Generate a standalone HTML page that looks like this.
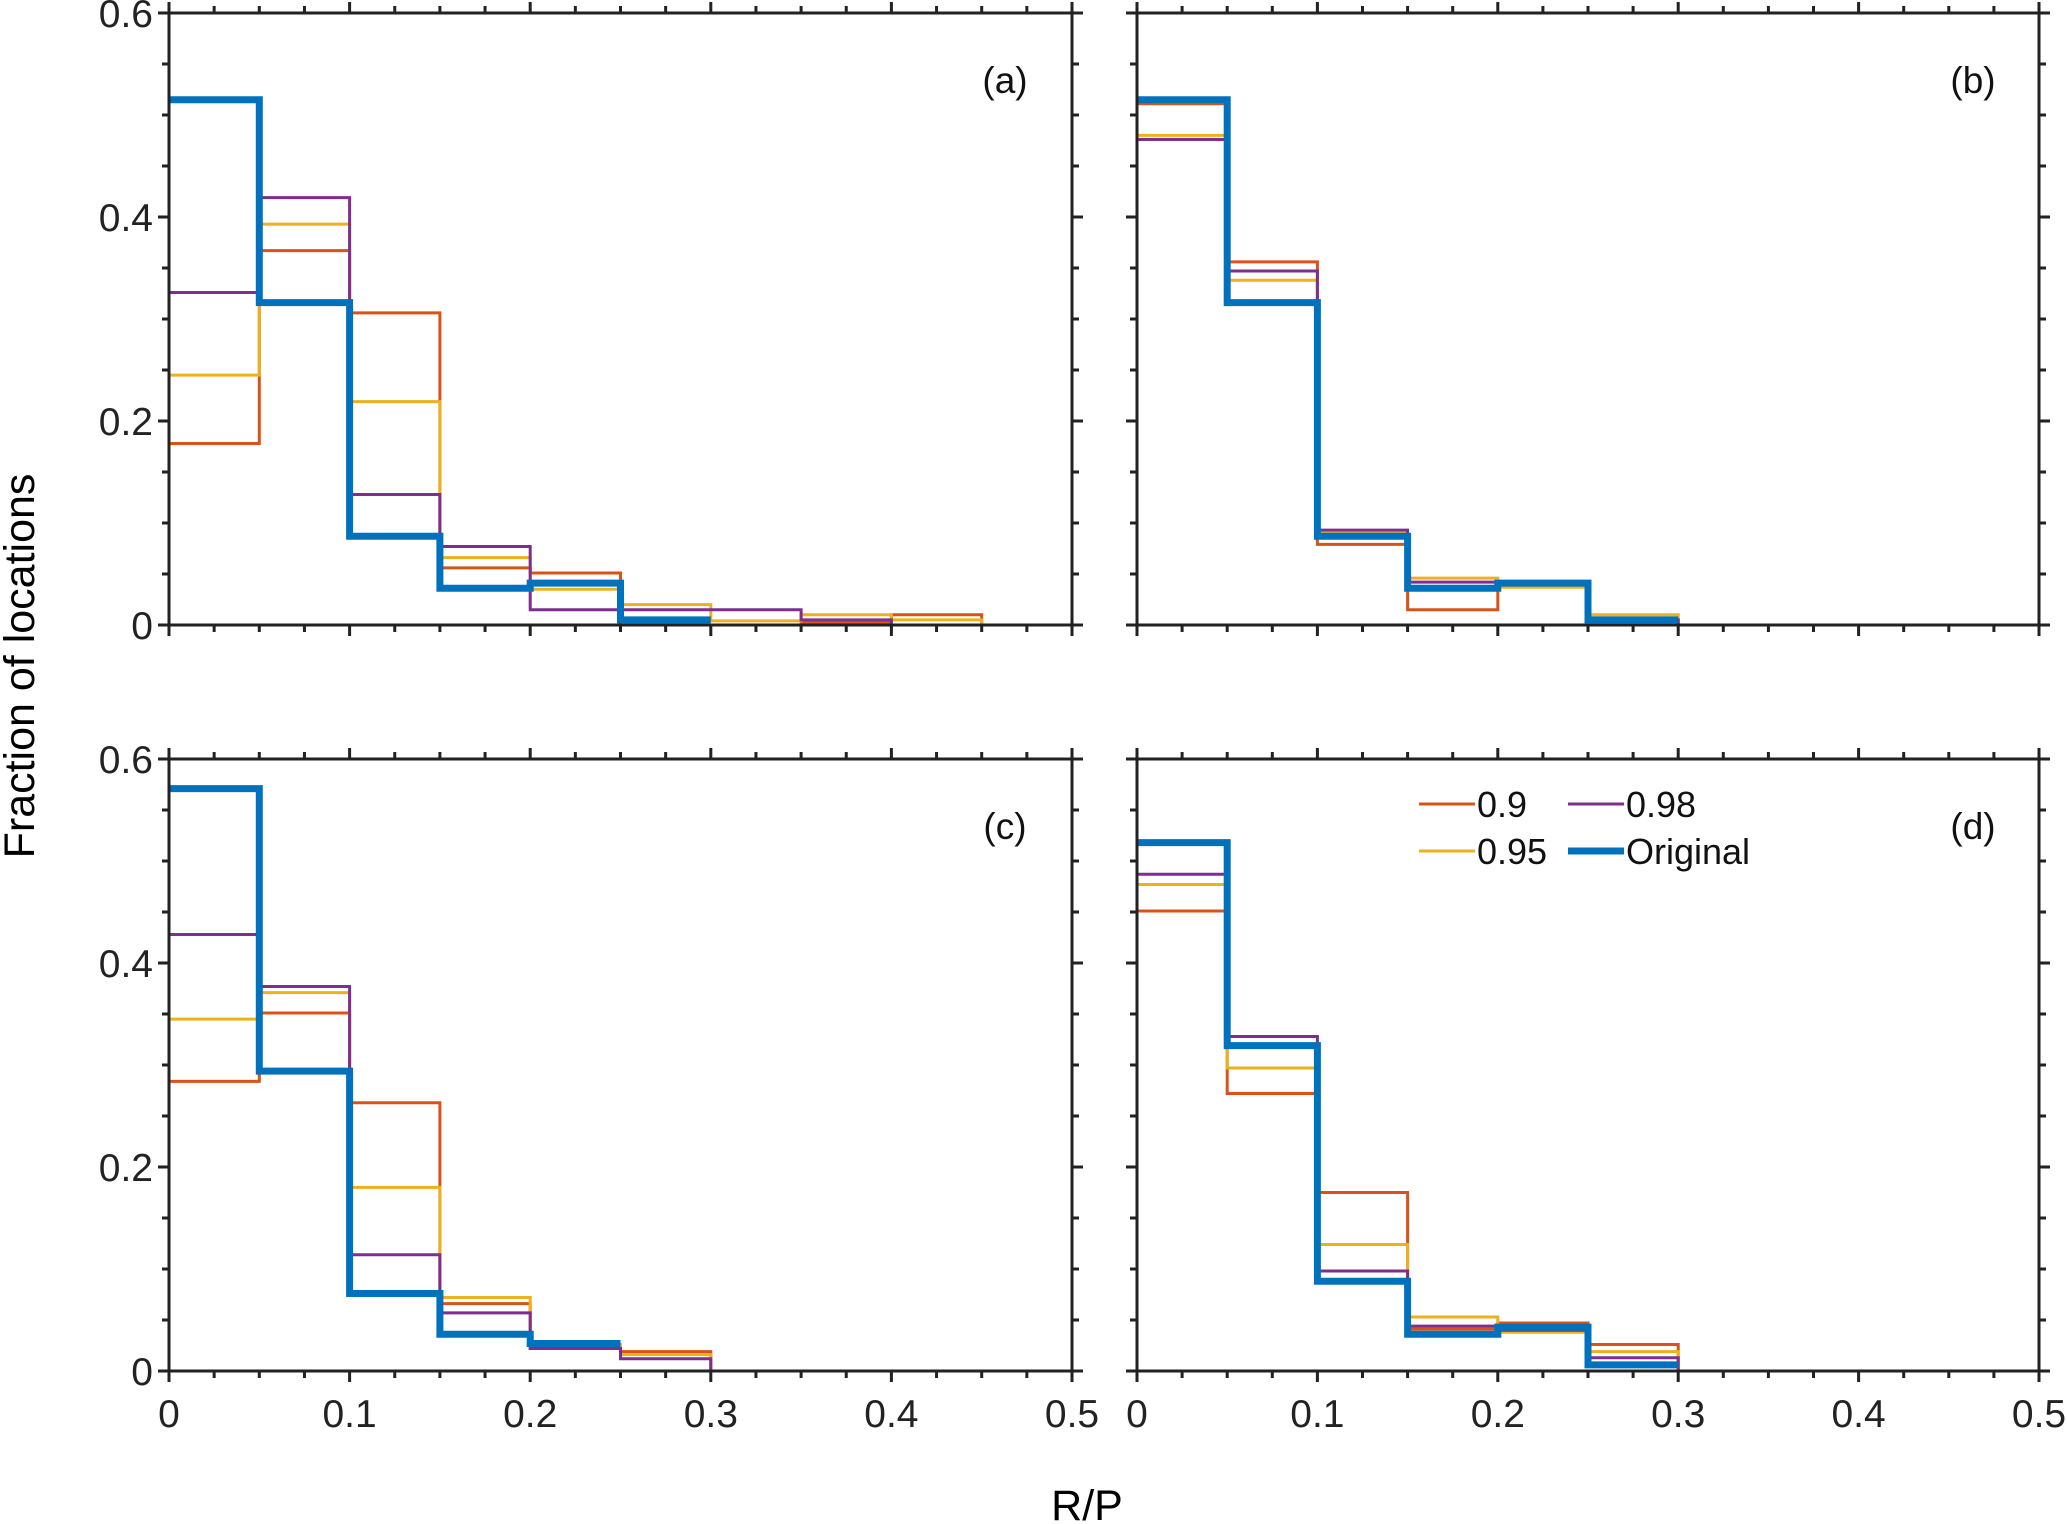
<!DOCTYPE html>
<html><head><meta charset="utf-8"><style>
html,body{margin:0;padding:0;background:#fff;}
svg{display:block;font-family:"Liberation Sans",sans-serif;}
</style></head><body>
<svg id="chart" width="2067" height="1524" viewBox="0 0 2067 1524" xmlns="http://www.w3.org/2000/svg">
<text x="0" y="0" font-size="43" text-anchor="middle" transform="translate(34,666) rotate(-90)">Fraction of locations</text>
<text x="1087" y="1520" font-size="43" text-anchor="middle">R/P</text>
</svg>
<script>
const binEdges = [0,0.05,0.1,0.15,0.2,0.25,0.3,0.35,0.4,0.45,0.5];
const xTicks = [0,0.1,0.2,0.3,0.4,0.5];
const yTicks = [0,0.2,0.4,0.6];
const seriesNames = ["0.9","0.95","0.98","Original"];
const panelLabels = ["(a)","(b)","(c)","(d)"];
const a_r90 = [0.178,0.367,0.306,0.056,0.051,0,0,0.003,0.010,0];
const a_r95 = [0.245,0.393,0.219,0.066,0.035,0.020,0.004,0.010,0.005,0];
const a_r98 = [0.326,0.419,0.128,0.077,0.015,0.015,0.015,0.005,0,0];
const a_orig = [0.515,0.316,0.087,0.036,0.041,0.005,0,0,0,0];
const b_r90 = [0.511,0.356,0.079,0.015,0.040,0.005,0,0,0,0];
const b_r95 = [0.480,0.338,0.090,0.046,0.037,0.010,0,0,0,0];
const b_r98 = [0.476,0.347,0.093,0.042,0.040,0.005,0,0,0,0];
const b_orig = [0.515,0.316,0.087,0.036,0.041,0.005,0,0,0,0];
const c_r90 = [0.284,0.351,0.263,0.066,0.022,0.019,0,0,0,0];
const c_r95 = [0.345,0.371,0.180,0.072,0.026,0.016,0,0,0,0];
const c_r98 = [0.428,0.377,0.114,0.057,0.022,0.012,0,0,0,0];
const c_orig = [0.571,0.294,0.076,0.036,0.027,0,0,0,0,0];
const d_r90 = [0.451,0.272,0.175,0.041,0.047,0.026,0,0,0,0];
const d_r95 = [0.477,0.297,0.124,0.053,0.038,0.019,0,0,0,0];
const d_r98 = [0.487,0.328,0.098,0.044,0.040,0.013,0,0,0,0];
const d_orig = [0.518,0.319,0.088,0.036,0.043,0.006,0,0,0,0];

const NS="http://www.w3.org/2000/svg";
const svg=document.getElementById('chart');
const colors=["#D95319","#EDB120","#7E2F8E","#0072BD"];
const widths=[3,3,3,7];
const panels=[
 {x0:169,x1:1072,y0:625,y1:13,data:[a_r90,a_r95,a_r98,a_orig],ylab:true,xlab:false},
 {x0:1137,x1:2039,y0:625,y1:13,data:[b_r90,b_r95,b_r98,b_orig],ylab:false,xlab:false},
 {x0:169,x1:1072,y0:1371,y1:759,data:[c_r90,c_r95,c_r98,c_orig],ylab:true,xlab:true},
 {x0:1137,x1:2039,y0:1371,y1:759,data:[d_r90,d_r95,d_r98,d_orig],ylab:false,xlab:true}
];
function mk(tag,attrs,parent){const e=document.createElementNS(NS,tag);for(const k in attrs)e.setAttribute(k,attrs[k]);(parent||svg).appendChild(e);return e;}
panels.forEach((p,pi)=>{
 const g=mk('g',{});
 
 
 const sx=v=>p.x0+(v/0.5)*(p.x1-p.x0);
 const sy=v=>p.y0-(v/0.6)*(p.y0-p.y1);
 p.data.forEach((vals,si)=>{
  let d='';
  for(let i=0;i<vals.length;i++){
   const v=vals[i];
   if(si===3 && v===0 && i>0) break;
   const xa=sx(binEdges[i]),xb=sx(binEdges[i+1]),y=sy(v);
   d+=(i===0?'M':'L')+xa+' '+y+' L'+xb+' '+y+' ';
  }
  const path=mk('path',{d:d,fill:'none',stroke:colors[si],'stroke-width':widths[si],'stroke-linejoin':'miter'},g);
  
  
 });
 const box=mk('rect',{x:p.x0,y:p.y1,width:p.x1-p.x0,height:p.y0-p.y1,fill:'none',stroke:'#222','stroke-width':3},g);
 
 
 for(let k=0;k<=20;k++){
  const v=k*0.025,x=sx(v),len=(k%4===0)?11:7;
  mk('line',{x1:x,y1:p.y0,x2:x,y2:p.y0+len,stroke:'#222','stroke-width':3},g);
  mk('line',{x1:x,y1:p.y1,x2:x,y2:p.y1-len,stroke:'#222','stroke-width':3},g);
 }
 for(let k=0;k<=12;k++){
  const v=k*0.05,y=sy(v),len=(k%4===0)?11:7;
  mk('line',{x1:p.x0,y1:y,x2:p.x0-len,y2:y,stroke:'#222','stroke-width':3},g);
  mk('line',{x1:p.x1,y1:y,x2:p.x1+len,y2:y,stroke:'#222','stroke-width':3},g);
 }
 if(p.ylab){yTicks.forEach(v=>{
  const t=mk('text',{x:p.x0-16,y:sy(v)+14,'font-size':39,'text-anchor':'end',fill:'#222'},g);
  
  
  t.textContent=String(v);
 });}
 if(p.xlab){xTicks.forEach(v=>{
  const t=mk('text',{x:sx(v),y:p.y0+56,'font-size':39,'text-anchor':'middle',fill:'#222'},g);
  
  
  t.textContent=String(v);
 });}
 const lab=mk('text',{x:p.x0+836,y:p.y1+80,'font-size':37,'text-anchor':'middle',fill:'#111'},g);
 
 
 lab.textContent=panelLabels[pi];
});
const lg=mk('g',{});


const legPos=[[1419,804],[1419,851],[1568,804],[1568,851]];
seriesNames.forEach((n,i)=>{
 const [lx,ly]=legPos[i];
 const ln=mk('line',{x1:lx,y1:ly,x2:lx+56,y2:ly,stroke:colors[i],'stroke-width':widths[i]},lg);
 
 
 const t=mk('text',{x:lx+58,y:ly+13,'font-size':36,fill:'#111'},lg);
 
 
 t.textContent=n;
});
</script>
</body></html>
